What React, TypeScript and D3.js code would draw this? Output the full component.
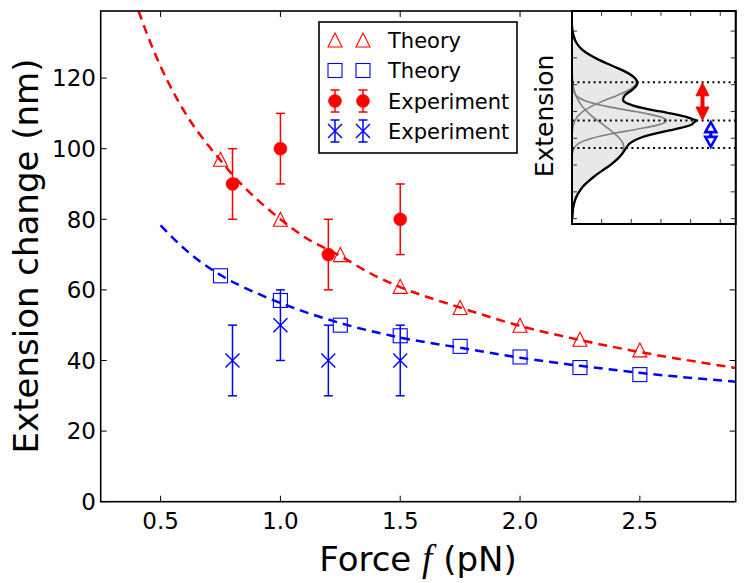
import React from 'react';
import * as d3 from 'd3';

// ---------- data ----------
const xTicks = [0.5, 1.0, 1.5, 2.0, 2.5];
const yTicks = [0, 20, 40, 60, 80, 100, 120];

const theoryForce = [0.75, 1.0, 1.25, 1.5, 1.75, 2.0, 2.25, 2.5];
const theoryRed = [97, 80, 70, 61, 55, 50, 46, 43];
const theoryBlue = [64, 57, 50, 47, 44, 41, 38, 36];

const expForce = [0.8, 1.0, 1.2, 1.5];
const expRed = [90, 100, 70, 80];
const expRedErr = [10, 10, 10, 10];
const expBlue = [40, 50, 40, 40];
const expBlueErr = [10, 10, 10, 10];

const curveRedForce = [0.408, 0.45, 0.5, 0.55, 0.6, 0.7, 0.75, 0.8, 0.9, 1.0, 1.1, 1.25, 1.4, 1.5, 1.75, 2.0, 2.25, 2.5, 2.75, 2.9];
const curveRedValue = [139, 131.3, 123.3, 116.4, 110.4, 100.8, 96.7, 92.6, 85.8, 80, 75.0, 69.6, 63.8, 60.8, 55.0, 49.8, 45.8, 42.4, 39.5, 37.9];
const curveBlueForce = [0.5, 0.6, 0.75, 0.9, 1.0, 1.25, 1.5, 1.75, 2.0, 2.25, 2.5, 2.9];
const curveBlueValue = [78.3, 71.6, 64.2, 59.1, 56.3, 50.6, 46.5, 43.6, 40.8, 38.5, 36.5, 34.0];

const legendLabels = ['Theory', 'Theory', 'Experiment', 'Experiment'];

// inset: extension (vertical) vs. density (horizontal)
const insetExt = [7.2, 7.0, 6.8, 6.6, 6.4, 6.2, 6.0, 5.8, 5.6, 5.4, 5.2, 5.09, 5.0, 4.8, 4.6, 4.4, 4.2, 4.0, 3.9, 3.8, 3.7, 3.66, 3.6, 3.5, 3.4, 3.3, 3.2, 3.0, 2.8, 2.64, 2.4, 2.2, 2.0, 1.8, 1.6, 1.4, 1.2, 1.0, 0.8, 0.6, 0.4, 0.2, 0.0];
const insetTop = [0, 0.02, 0.06, 0.13, 0.26, 0.47, 0.78, 1.16, 1.57, 1.93, 2.14, 2.17, 2.14, 1.92, 1.52, 1.07, 0.67, 0.37, 0.27, 0.18, 0.12, 0.10, 0.08, 0.05, 0.03, 0.02, 0.01, 0, 0, 0, 0, 0, 0, 0, 0, 0, 0, 0, 0, 0, 0, 0, 0];
const insetMid = [0, 0, 0, 0, 0, 0, 0, 0, 0, 0, 0, 0, 0.01, 0.03, 0.13, 0.44, 1.12, 2.11, 2.59, 2.97, 3.17, 3.19, 3.15, 2.91, 2.50, 2.00, 1.49, 0.67, 0.22, 0.08, 0.01, 0, 0, 0, 0, 0, 0, 0, 0, 0, 0, 0, 0];
const insetLow = [0, 0, 0, 0, 0, 0, 0, 0, 0.01, 0.01, 0.02, 0.03, 0.04, 0.07, 0.13, 0.22, 0.34, 0.50, 0.60, 0.70, 0.82, 0.86, 0.94, 1.06, 1.18, 1.30, 1.41, 1.60, 1.72, 1.75, 1.67, 1.51, 1.29, 1.03, 0.78, 0.56, 0.37, 0.24, 0.14, 0.08, 0.04, 0.02, 0.01];
const insetTotal = [0, 0.02, 0.06, 0.13, 0.26, 0.47, 0.78, 1.16, 1.58, 1.94, 2.16, 2.20, 2.19, 2.02, 1.78, 1.73, 2.13, 2.98, 3.46, 3.85, 4.11, 4.20, 4.12, 4.02, 3.71, 3.32, 2.91, 2.27, 1.94, 1.83, 1.68, 1.51, 1.29, 1.03, 0.78, 0.56, 0.37, 0.24, 0.14, 0.08, 0.04, 0.02, 0.01];
const insetPeaks = [5.09, 3.66, 2.64];
const insetArrowX = [4.40, 4.68];
const insetXTicks = [1, 2, 3, 4, 5];
const insetYTicks = [0, 1, 2, 3, 4, 5, 6, 7];

// ---------- layout ----------
const W = 746, H = 583;
const FONT = 'DejaVu Sans';
const RED = '#ff0000';
const BLUE = '#0000ff';

const x = d3.scaleLinear().domain([0.25, 2.9]).range([100.7, 735.7]);
const y = d3.scaleLinear().domain([0, 139]).range([501.7, 11]);

const ix = d3.scaleLinear().domain([0, 5.52]).range([572, 735.7]);
const iy = d3.scaleLinear().domain([-0.2, 7.75]).range([224, 11]);

const TICK = 6;

function Triangle({ cx, cy, s = 7, color = RED }: any) {
  return <path d={`M${cx},${cy - s}L${cx - s},${cy + s}L${cx + s},${cy + s}Z`} fill="none" stroke={color} strokeWidth={1.1} />;
}
function Square({ cx, cy, s = 7, color = BLUE }: any) {
  return <rect x={cx - s} y={cy - s} width={2 * s} height={2 * s} fill="none" stroke={color} strokeWidth={1.1} />;
}
function ErrBar({ cx, top, bottom, color }: any) {
  return (
    <g stroke={color} strokeWidth={1.5}>
      <line x1={cx} x2={cx} y1={top} y2={bottom} />
      <line x1={cx - 4.5} x2={cx + 4.5} y1={top} y2={top} />
      <line x1={cx - 4.5} x2={cx + 4.5} y1={bottom} y2={bottom} />
    </g>
  );
}
function Circle({ cx, cy }: any) {
  return <circle cx={cx} cy={cy} r={6.5} fill={RED} stroke={RED} strokeWidth={0.5} />;
}
function Cross({ cx, cy, s = 7 }: any) {
  return (
    <g stroke={BLUE} strokeWidth={1.4}>
      <line x1={cx - s} y1={cy - s} x2={cx + s} y2={cy + s} />
      <line x1={cx - s} y1={cy + s} x2={cx + s} y2={cy - s} />
    </g>
  );
}

export default function App() {
  const redLine = d3.line<number>().x((_, i) => x(curveRedForce[i])).y(d => y(d)).curve(d3.curveMonotoneX)(curveRedValue) as string;
  const blueLine = d3.line<number>().x((_, i) => x(curveBlueForce[i])).y(d => y(d)).curve(d3.curveMonotoneX)(curveBlueValue) as string;

  const compLine = (vals: number[]) =>
    d3.line<number>().x(d => ix(d)).y((_, i) => iy(insetExt[i])).curve(d3.curveCatmullRom.alpha(0.5))(vals) as string;
  const totalArea = d3.area<number>().y((_, i) => iy(insetExt[i])).x0(ix(0)).x1(d => ix(d)).curve(d3.curveCatmullRom.alpha(0.5))(insetTotal) as string;

  const [x0, x1] = x.range();
  const [y0, y1] = y.range();
  const [ix0, ix1] = ix.range();
  const [iy0, iy1] = iy.range();

  const legX = 319, legY = 22, legW = 198, legH = 131;
  const rowY = [40, 70.5, 101, 131];
  const mX = [335, 363];

  const redArrow = () => {
    const ax = ix(insetArrowX[0]);
    const t = iy(insetPeaks[0]) + 0.5;
    const b = iy(insetPeaks[1]) - 0.5;
    const hl = 13, hw = 6.5;
    return (
      <g>
        <line x1={ax} x2={ax} y1={t + hl - 1} y2={b - hl + 1} stroke={RED} strokeWidth={4} />
        <path d={`M${ax},${t}L${ax - hw},${t + hl}L${ax + hw},${t + hl}Z`} fill={RED} stroke={RED} strokeWidth={1} strokeLinejoin="round" />
        <path d={`M${ax},${b}L${ax - hw},${b - hl}L${ax + hw},${b - hl}Z`} fill={RED} stroke={RED} strokeWidth={1} strokeLinejoin="round" />
      </g>
    );
  };
  const blueArrow = () => {
    const ax = ix(insetArrowX[1]);
    const t = iy(insetPeaks[1]) + 1.5;
    const b = iy(insetPeaks[2]) - 1;
    const hl = 10, hw = 5.5;
    return (
      <g stroke={BLUE} strokeWidth={2.6} strokeLinejoin="miter">
        <line x1={ax} x2={ax} y1={t + hl} y2={b - hl} strokeWidth={3.2} />
        <path d={`M${ax},${t}L${ax - hw},${t + hl}L${ax + hw},${t + hl}Z`} fill="#ffffff" />
        <path d={`M${ax},${b}L${ax - hw},${b - hl}L${ax + hw},${b - hl}Z`} fill="#ffffff" />
      </g>
    );
  };

  return (
    <svg width={W} height={H} style={{ position: 'absolute', left: 0, top: 0, background: '#fff' }} fontFamily={FONT}>
      <rect x={0} y={0} width={W} height={H} fill="#fff" />

      {/* curves */}
      <path d={redLine} fill="none" stroke={RED} strokeWidth={2.5} strokeDasharray="9,6" />
      <path d={blueLine} fill="none" stroke={BLUE} strokeWidth={2.5} strokeDasharray="9,6" />

      {/* theory markers */}
      {theoryForce.map((f, i) => <Triangle key={'t' + i} cx={x(f)} cy={y(theoryRed[i])} />)}
      {theoryForce.map((f, i) => <Square key={'s' + i} cx={x(f)} cy={y(theoryBlue[i])} />)}

      {/* experiment */}
      {expForce.map((f, i) => (
        <g key={'er' + i}>
          <ErrBar cx={x(f)} top={y(expRed[i] + expRedErr[i])} bottom={y(expRed[i] - expRedErr[i])} color={RED} />
          <Circle cx={x(f)} cy={y(expRed[i])} />
        </g>
      ))}
      {expForce.map((f, i) => (
        <g key={'eb' + i}>
          <ErrBar cx={x(f)} top={y(expBlue[i] + expBlueErr[i])} bottom={y(expBlue[i] - expBlueErr[i])} color={BLUE} />
          <Cross cx={x(f)} cy={y(expBlue[i])} />
        </g>
      ))}

      {/* axes frame & ticks */}
      <g stroke="#000" strokeWidth={1}>
        {xTicks.map(t => (
          <g key={'xt' + t}>
            <line x1={x(t)} x2={x(t)} y1={y0} y2={y0 - TICK} />
            <line x1={x(t)} x2={x(t)} y1={y1} y2={y1 + TICK} />
          </g>
        ))}
        {yTicks.map(t => (
          <g key={'yt' + t}>
            <line x1={x0} x2={x0 + TICK} y1={y(t)} y2={y(t)} />
            <line x1={x1} x2={x1 - TICK} y1={y(t)} y2={y(t)} />
          </g>
        ))}
      </g>
      <rect x={x0} y={y1} width={x1 - x0} height={y0 - y1} fill="none" stroke="#000" strokeWidth={1.6} />

      {/* tick labels */}
      {xTicks.map(t => (
        <text key={'xl' + t} x={x(t)} y={528.5} fontSize={23} textAnchor="middle">{t.toFixed(1)}</text>
      ))}
      {yTicks.map(t => (
        <text key={'yl' + t} x={96} y={y(t)} dy="0.36em" fontSize={23} textAnchor="end">{t}</text>
      ))}

      {/* axis titles */}
      <text x={418} y={571} fontSize={34} textAnchor="middle">
        Force <tspan fontFamily="Liberation Serif" fontStyle="italic" fontSize={37}>f</tspan> (pN)
      </text>
      <text transform={`translate(38,${256}) rotate(-90)`} fontSize={34} textAnchor="middle">Extension change (nm)</text>

      {/* legend */}
      <rect x={legX} y={legY} width={legW} height={legH} fill="#fff" stroke="#000" strokeWidth={1.6} />
      {mX.map((mx, k) => (
        <g key={'lm' + k}>
          <Triangle cx={mx} cy={rowY[0]} />
          <Square cx={mx} cy={rowY[1]} />
          <ErrBar cx={mx} top={rowY[2] - 11} bottom={rowY[2] + 11} color={RED} />
          <Circle cx={mx} cy={rowY[2]} />
          <ErrBar cx={mx} top={rowY[3] - 11} bottom={rowY[3] + 11} color={BLUE} />
          <Cross cx={mx} cy={rowY[3]} />
        </g>
      ))}
      {legendLabels.map((l, i) => (
        <text key={'ll' + i} x={388} y={rowY[i]} dy="0.36em" fontSize={21}>{l}</text>
      ))}

      {/* inset */}
      <text transform={`translate(553,${116}) rotate(-90)`} fontSize={25} textAnchor="middle">Extension</text>
      <rect x={ix0} y={iy1} width={ix1 - ix0} height={iy0 - iy1} fill="#fff" />
      <path d={totalArea} fill="#e8e8e8" stroke="none" />
      {[insetTop, insetMid, insetLow].map((c, k) => (
        <path key={'c' + k} d={compLine(c)} fill="none" stroke="#808080" strokeWidth={1.6} />
      ))}
      <path d={compLine(insetTotal)} fill="none" stroke="#000" strokeWidth={2.3} />
      {insetPeaks.map((p, k) => (
        <line key={'dl' + k} x1={ix0} x2={ix1} y1={iy(p)} y2={iy(p)} stroke="#000" strokeWidth={2} strokeDasharray="2,3.4" />
      ))}
      {redArrow()}
      {blueArrow()}
      <g stroke="#333" strokeWidth={1}>
        {insetXTicks.map(t => (
          <g key={'ixt' + t}>
            <line x1={ix(t)} x2={ix(t)} y1={iy0} y2={iy0 - 5} />
            <line x1={ix(t)} x2={ix(t)} y1={iy1} y2={iy1 + 5} />
          </g>
        ))}
        {insetYTicks.map(t => (
          <g key={'iyt' + t}>
            <line x1={ix0} x2={ix0 + 5} y1={iy(t)} y2={iy(t)} />
            <line x1={ix1} x2={ix1 - 5} y1={iy(t)} y2={iy(t)} />
          </g>
        ))}
      </g>
      <rect x={ix0} y={iy1} width={ix1 - ix0} height={iy0 - iy1} fill="none" stroke="#000" strokeWidth={2} />
    </svg>
  );
}
